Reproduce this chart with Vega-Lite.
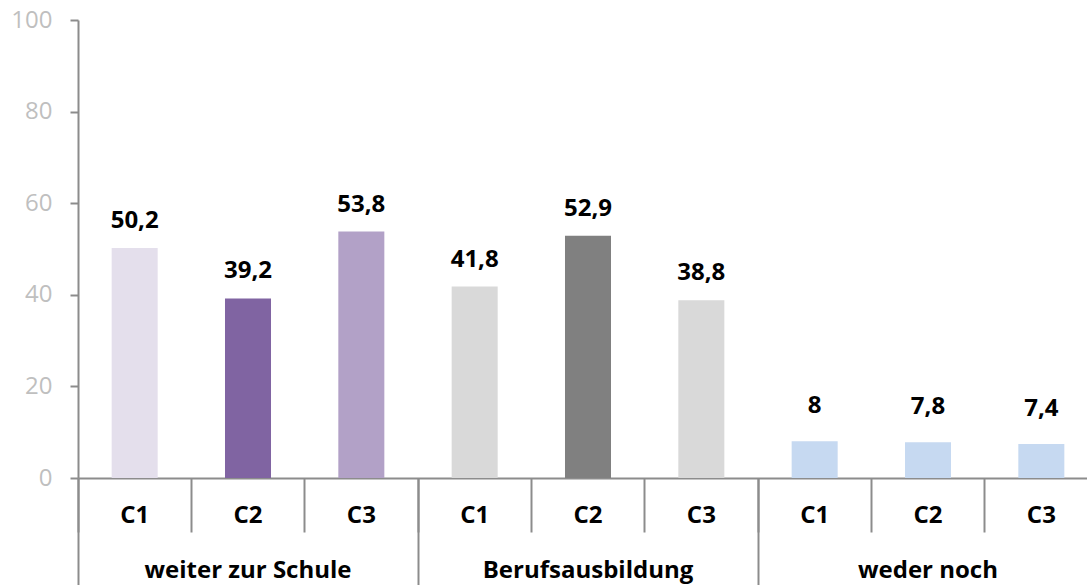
{
  "$schema": "https://vega.github.io/schema/vega-lite/v6.json",
  "autosize": {"type": "none"},
  "padding": {"left": 78, "top": 20, "right": 0, "bottom": 107},
  "width": 1020,
  "height": 458,
  "background": "white",
  "config": {
    "view": {"stroke": null},
    "font": "Open Sans",
    "locale": {"number": {"decimal": ",", "thousands": ".", "grouping": [3], "currency": ["", " €"]}}
  },
  "data": {
    "values": [
      {"group": "weiter zur Schule", "cat": "C1", "id": "weiter zur Schule C1", "value": 50.2},
      {"group": "weiter zur Schule", "cat": "C2", "id": "weiter zur Schule C2", "value": 39.2},
      {"group": "weiter zur Schule", "cat": "C3", "id": "weiter zur Schule C3", "value": 53.8},
      {"group": "Berufsausbildung", "cat": "C1", "id": "Berufsausbildung C1", "value": 41.8},
      {"group": "Berufsausbildung", "cat": "C2", "id": "Berufsausbildung C2", "value": 52.9},
      {"group": "Berufsausbildung", "cat": "C3", "id": "Berufsausbildung C3", "value": 38.8},
      {"group": "weder noch", "cat": "C1", "id": "weder noch C1", "value": 8},
      {"group": "weder noch", "cat": "C2", "id": "weder noch C2", "value": 7.8},
      {"group": "weder noch", "cat": "C3", "id": "weder noch C3", "value": 7.4}
    ]
  },
  "layer": [
    {
      "encoding": {
        "x": {
          "field": "id", "type": "nominal", "sort": null,
          "scale": {"paddingInner": 0, "paddingOuter": 0},
          "axis": {
            "title": null, "orient": "bottom",
            "labelExpr": "slice(datum.value, -2)",
            "labelAngle": 0, "labelFont": "Open Sans", "labelFontSize": 24, "labelFontWeight": "bold", "labelColor": "#000000",
            "labelBaseline": "alphabetic", "labelPadding": -10, "labelLimit": 0,
            "bandPosition": 0, "tickSize": 54, "tickWidth": 2, "tickColor": "#8c8c8c",
            "domain": true, "domainColor": "#8c8c8c", "domainWidth": 2, "grid": false
          }
        },
        "y": {
          "field": "value", "type": "quantitative",
          "scale": {"domain": [0, 100], "nice": false},
          "axis": {
            "title": null, "values": [0, 20, 40, 60, 80, 100],
            "labelFont": "Open Sans", "labelFontSize": 24, "labelColor": "#bfbfbf", "labelPadding": 18,
            "tickSize": 8, "tickWidth": 2, "tickColor": "#8c8c8c",
            "domainColor": "#8c8c8c", "domainWidth": 2, "grid": false
          }
        }
      },
      "layer": [
        {
          "mark": {"type": "bar", "width": {"band": 0.406}},
          "encoding": {
            "color": {
              "field": "id", "type": "nominal", "sort": null, "legend": null,
              "scale": {"range": ["#e4dfec", "#8064a2", "#b2a1c7", "#d9d9d9", "#808080", "#d9d9d9", "#c6d9f1", "#c6d9f1", "#c6d9f1"]}
            }
          }
        },
        {
          "transform": [{"filter": "datum.value >= 10"}],
          "mark": {"type": "text", "font": "Open Sans", "fontSize": 24, "fontWeight": "bold", "color": "#000000", "baseline": "alphabetic", "dy": -20},
          "encoding": {"text": {"field": "value", "type": "quantitative", "format": ".1~f"}}
        },
        {
          "transform": [{"filter": "datum.value < 10"}],
          "mark": {"type": "text", "font": "Open Sans", "fontSize": 24, "fontWeight": "bold", "color": "#000000", "baseline": "alphabetic", "dy": -28},
          "encoding": {"text": {"field": "value", "type": "quantitative", "format": ".1~f"}}
        }
      ]
    },
    {
      "mark": {"type": "rule", "opacity": 0},
      "encoding": {
        "x": {
          "field": "group", "type": "nominal", "sort": null,
          "scale": {"paddingInner": 0, "paddingOuter": 0},
          "axis": {
            "title": null, "orient": "bottom",
            "labelAngle": 0, "labelFont": "Open Sans", "labelFontSize": 24, "labelFontWeight": "bold", "labelColor": "#000000",
            "labelBaseline": "alphabetic", "labelPadding": -8, "labelLimit": 0,
            "bandPosition": 0, "tickSize": 107, "tickWidth": 2, "tickColor": "#8c8c8c",
            "domain": false, "grid": false
          }
        }
      }
    }
  ],
  "resolve": {"scale": {"x": "independent"}, "axis": {"x": "independent"}}
}
